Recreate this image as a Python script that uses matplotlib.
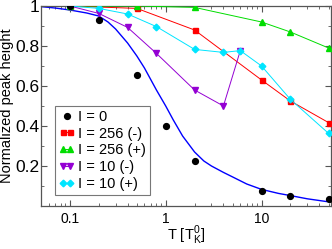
import matplotlib
matplotlib.use('Agg')
import matplotlib.pyplot as plt
from matplotlib.ticker import MultipleLocator, NullFormatter, FuncFormatter
from matplotlib.legend_handler import HandlerLine2D

plt.rcParams['font.family'] = ['Liberation Sans', 'DejaVu Sans']
plt.rcParams['mathtext.fontset'] = 'custom'
plt.rcParams['mathtext.rm'] = 'Liberation Sans'

# I = 0 (NRG points) and the fitted curve
t_i0 = [0.1, 0.2, 0.5, 1, 2, 10, 20, 50]
h_i0 = [1.0, 0.93, 0.655, 0.40, 0.227, 0.075, 0.052, 0.033]

t_fit = [0.05, 0.07, 0.1, 0.15, 0.2, 0.25, 0.3, 0.4, 0.5, 0.6, 0.8, 1.0, 1.2,
         1.5, 2.0, 2.5, 3.0, 4.0, 5.0, 7.0, 10, 15, 20, 30, 48]
h_fit = [0.997, 0.99, 0.98, 0.965, 0.95, 0.92, 0.885, 0.815, 0.75, 0.69, 0.58,
         0.50, 0.43, 0.35, 0.27, 0.225, 0.20, 0.168, 0.145, 0.11, 0.083, 0.063,
         0.052, 0.036, 0.022]

# I = 256
t_256 = [0.1, 0.5, 2, 10, 20, 50]
h_256m = [1.0, 0.988, 0.88, 0.63, 0.525, 0.417]
h_256p = [1.0, 1.0, 0.993, 0.92, 0.87, 0.79]

# I = 10
t_10m = [0.1, 0.2, 0.4, 0.8, 2, 4, 6]
h_10m = [1.0, 0.963, 0.893, 0.763, 0.58, 0.50, 0.777]
t_10p = [0.1, 0.2, 0.4, 0.8, 2, 4, 6, 10, 20, 50]
h_10p = [1.0, 0.988, 0.96, 0.897, 0.783, 0.768, 0.777, 0.70, 0.533, 0.363]

fig = plt.figure(figsize=(3.32, 2.49), dpi=100)
ax = fig.add_axes([41/332, 43/249, 290/332, 200/249])

ax.plot(t_fit, h_fit, color='#0000ff', lw=1.0, zorder=2)
dots, = ax.plot(t_i0, h_i0, 'o', color='black', ms=4.2, ls='none', label='I = 0', zorder=5)
ax.plot(t_256, h_256m, '-s', color='#ff0000', ms=3.6, lw=0.7, label='I = 256 (-)', zorder=3)
ax.plot(t_256, h_256p, '-^', color='#00dd00', ms=4.2, lw=0.7, label='I = 256 (+)', zorder=3)
ax.plot(t_10m, h_10m, '-v', color='#9400d3', ms=4.2, lw=0.7, label='I = 10 (-)', zorder=3)
ax.plot(t_10p, h_10p, '-D', color='#00e5ff', ms=3.4, lw=0.7, label='I = 10 (+)', zorder=4)

ax.set_xscale('log')
ax.set_xlim(0.05, 53)
ax.set_ylim(0, 1)
ax.set_yticks([0.2, 0.4, 0.6, 0.8, 1.0])
ax.yaxis.set_minor_locator(MultipleLocator(0.1))
ax.yaxis.set_major_formatter(FuncFormatter(lambda v, p: '%g' % v))
ax.xaxis.set_major_formatter(FuncFormatter(lambda v, p: '%g' % v))
ax.xaxis.set_minor_formatter(NullFormatter())

ax.tick_params(which='both', direction='in', top=True, right=True,
               colors='#555555', labelcolor='black')
ax.tick_params(axis='x', which='major', labelsize=10, pad=4)
ax.tick_params(axis='y', which='major', labelsize=12.5, pad=1)
ax.tick_params(which='major', length=4, width=0.8)
ax.tick_params(which='minor', length=2, width=0.6)
for s in ax.spines.values():
    s.set_color('#555555')
    s.set_linewidth(0.9)

ax.set_xlabel('T [T$_\\mathregular{K}^\\mathregular{0}$]', fontsize=10.5, labelpad=-2)
ax.set_ylabel('Normalized peak height', fontsize=10.5, labelpad=1)

leg = ax.legend(loc='upper left', bbox_to_anchor=(14/290, 100/200), fontsize=10.5,
                numpoints=2, handlelength=1.1, handletextpad=0.25,
                borderpad=0.25, labelspacing=0.2, fancybox=False,
                framealpha=1, borderaxespad=0,
                handler_map={dots: HandlerLine2D(numpoints=1)})
leg.get_frame().set_edgecolor('#777777')
leg.get_frame().set_linewidth(0.8)

fig.savefig('out.png', dpi=100)
